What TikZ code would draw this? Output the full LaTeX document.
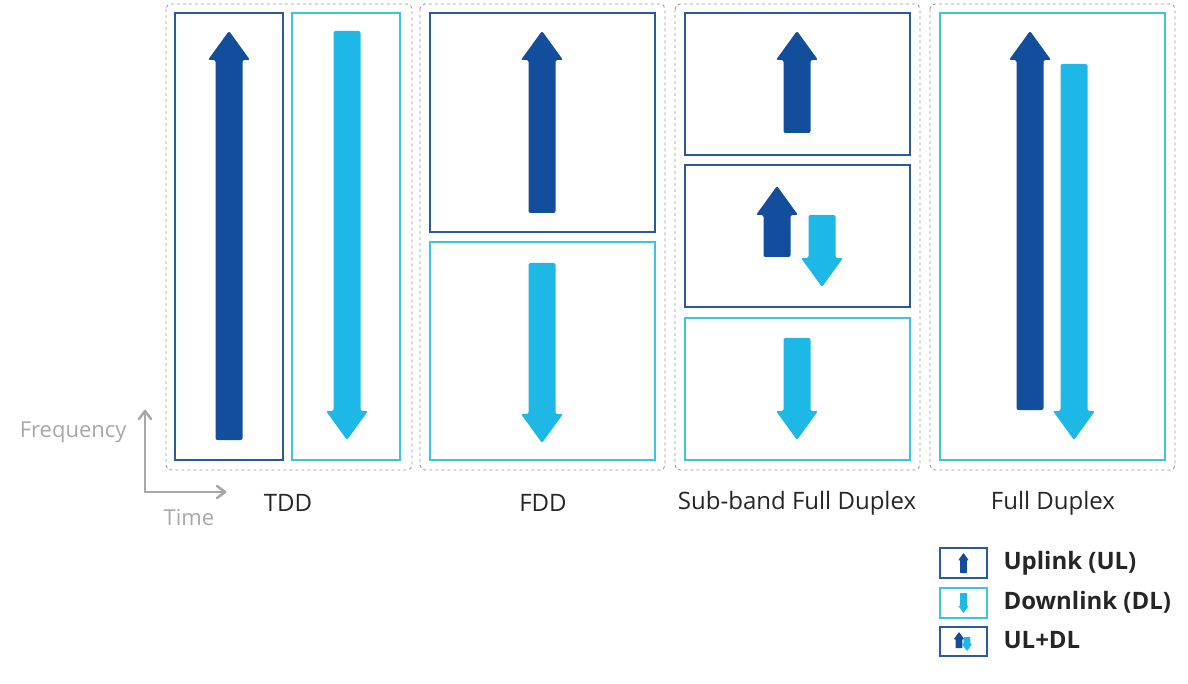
\documentclass[tikz,border=0pt]{standalone}
\usepackage{fontspec}
\setmainfont{Open Sans}
\definecolor{ul}{HTML}{134E9C}
\definecolor{dl}{HTML}{1EB8E6}
\definecolor{ulb}{HTML}{2B5A9E}
\definecolor{dlb}{HTML}{3CC4E2}
\definecolor{ax}{HTML}{A8A8A8}
% up arrow: cx, tip y, bottom y, color, scale
\newcommand{\UpA}[5]{\fill[#4,rounded corners=#5*2pt] (#1-#5*13.5,#3) -- (#1-#5*13.5,#2+#5*29) -- (#1-#5*21,#2+#5*29) -- (#1,#2) -- (#1+#5*21,#2+#5*29) -- (#1+#5*13.5,#2+#5*29) -- (#1+#5*13.5,#3) -- cycle;}
\newcommand{\DnA}[5]{\fill[#4,rounded corners=#5*2pt] (#1-#5*13.5,#2) -- (#1-#5*13.5,#3-#5*29) -- (#1-#5*21,#3-#5*29) -- (#1,#3) -- (#1+#5*21,#3-#5*29) -- (#1+#5*13.5,#3-#5*29) -- (#1+#5*13.5,#2) -- cycle;}
\tikzset{grp/.style={draw=gray!80,dashed,line width=0.9pt,rounded corners=5pt},
 ubox/.style={draw=ulb,line width=1.6pt},
 dbox/.style={draw=dlb,line width=1.6pt},
 lab/.style={font=\fontsize{24}{28}\selectfont,text=black!85},
 leg/.style={font=\fontsize{24}{28}\selectfont\bfseries,text=black!85,anchor=west},
 axl/.style={font=\fontsize{22}{26}\selectfont,text=ax}}
\begin{document}
\begin{tikzpicture}[x=1pt,y=-1pt]
\useasboundingbox (0,0) rectangle (1188,684);
% groups
\draw[grp] (166,4) rectangle (412,470);
\draw[grp] (420,4) rectangle (665,470);
\draw[grp] (675,4) rectangle (920,470);
\draw[grp] (930,4) rectangle (1175,470);
% TDD
\draw[ubox] (175,13) rectangle (283,460);
\draw[dbox] (292,13) rectangle (400,460);
\UpA{229}{31}{440}{ul}{1}
\DnA{347}{31}{440}{dl}{1}
% FDD
\draw[ubox] (430,13) rectangle (655,232);
\draw[dbox] (430,242) rectangle (655,460);
\UpA{542}{31}{213}{ul}{1}
\DnA{542}{263}{443}{dl}{1}
% SBFD
\draw[ubox] (685,13) rectangle (910,155);
\draw[ubox] (685,165) rectangle (910,307);
\draw[dbox] (685,318) rectangle (910,460);
\UpA{797}{31}{133}{ul}{1}
\UpA{777}{186}{257}{ul}{1}
\DnA{822}{215}{287}{dl}{1}
\DnA{797}{338}{440}{dl}{1}
% FD
\draw[dbox] (940,13) rectangle (1165,460);
\UpA{1030}{31}{410}{ul}{1}
\DnA{1074}{64}{440}{dl}{1}
% labels
\node[lab] (tdd) at (288,503) {TDD};
\node[lab] (fdd) at (543,503) {FDD};
\node[lab] (sbfd) at (797,503) {Sub-band Full Duplex};
\node[lab] (fd) at (1053,503) {Full Duplex};
% axes
\coordinate (o) at (145,492);
\coordinate (fy) at (145,410);
\coordinate (tx) at (226,492);
\draw[ax,line width=1.3pt] (fy) -- (o) -- (tx);
\draw[ax,line width=2.5pt,line cap=round,line join=round] (139,419) -- (145,411) -- (151,419);
\draw[ax,line width=2.5pt,line cap=round,line join=round] (217,486) -- (225,492) -- (217,498);
\node[axl,anchor=east] (freq) at (130,432) {Frequency};
\node[axl] (time) at (189,518) {Time};
% legend
\draw[ubox] (940,548) rectangle (987,578);
\UpA{963.5}{553}{573}{ul}{0.25}
\draw[dbox] (940,588) rectangle (987,618);
\DnA{963.5}{593}{613}{dl}{0.25}
\draw[ubox] (940,627) rectangle (987,656);
\UpA{959}{632}{648}{ul}{0.25}
\DnA{967}{637}{651}{dl}{0.25}
\node[leg] (lul) at (1000,563) {Uplink (UL)};
\node[leg] (ldl) at (1000,602) {Downlink (DL)};
\node[leg] (lud) at (1000,640) {UL+DL};
\end{tikzpicture}
\end{document}
